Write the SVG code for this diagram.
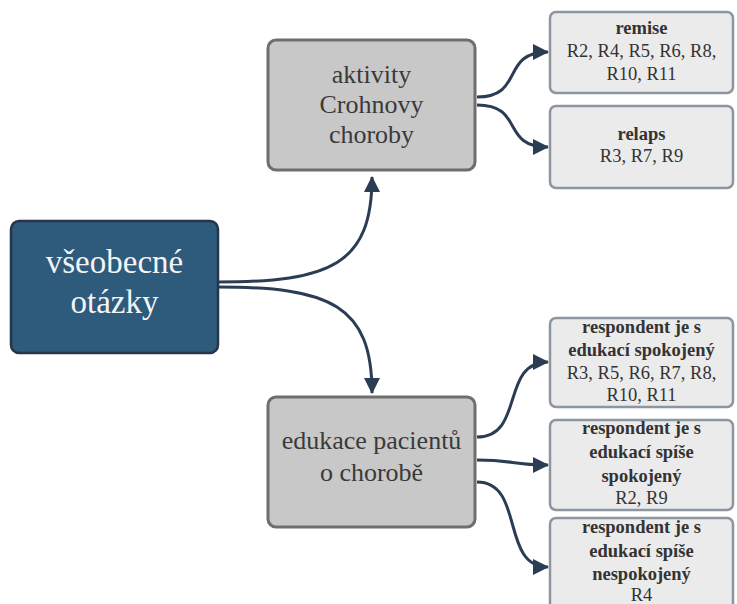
<svg xmlns="http://www.w3.org/2000/svg" width="737" height="604" viewBox="0 0 737 604">
<defs>
<marker id="arr" markerUnits="userSpaceOnUse" markerWidth="16" markerHeight="16" viewBox="0 0 16 16" refX="15" refY="8" orient="auto">
<path d="M0,0 L16,8 L0,16 Z" fill="#2b3d55"/>
</marker>
</defs>
<rect width="737" height="604" fill="#ffffff"/>
<g id="connectors" fill="none" stroke="#2b3d55" stroke-width="3">
<path d="M218,282 C330,282 372,265 372,177" marker-end="url(#arr)"/>
<path d="M218,287 C330,287 372,305 372,393" marker-end="url(#arr)"/>
<path d="M477,97 C525,97 500,52 548,52" marker-end="url(#arr)"/>
<path d="M477,105 C525,105 500,147 548,147" marker-end="url(#arr)"/>
<path d="M477,437 C525,437 500,362 548,362" marker-end="url(#arr)"/>
<path d="M477,460 C515,460 510,465 548,465" marker-end="url(#arr)"/>
<path d="M477,482 C525,482 500,567 548,567" marker-end="url(#arr)"/>
</g>
<g id="node-vseobecne">
<rect x="11" y="221" width="207" height="132" rx="8" fill="#2e5a7c" stroke="#25364a" stroke-width="2.5"/>
<text x="114.5" y="273" font-family="Liberation Serif" font-size="33" text-anchor="middle" fill="#f4f4f4">všeobecné</text>
<text x="114.5" y="313" font-family="Liberation Serif" font-size="33" text-anchor="middle" fill="#f4f4f4">otázky</text>
</g>
<g id="node-aktivity">
<rect x="268" y="40" width="207" height="130" rx="8" fill="#c8c8c8" stroke="#6e6e6e" stroke-width="3"/>
<text x="371.5" y="83" font-family="Liberation Serif" font-size="26" text-anchor="middle" fill="#3a3a3a">aktivity</text>
<text x="371.5" y="113" font-family="Liberation Serif" font-size="26" text-anchor="middle" fill="#3a3a3a">Crohnovy</text>
<text x="371.5" y="143" font-family="Liberation Serif" font-size="26" text-anchor="middle" fill="#3a3a3a">choroby</text>
</g>
<g id="node-edukace">
<rect x="268" y="397" width="207" height="130" rx="8" fill="#c8c8c8" stroke="#6e6e6e" stroke-width="3"/>
<text x="371.5" y="449" font-family="Liberation Serif" font-size="26" text-anchor="middle" fill="#3a3a3a">edukace pacientů</text>
<text x="371.5" y="481" font-family="Liberation Serif" font-size="26" text-anchor="middle" fill="#3a3a3a">o chorobě</text>
</g>
<g id="node-remise">
<rect x="550" y="12" width="183" height="81" rx="6" fill="#ebebeb" stroke="#8d96a0" stroke-width="2.5"/>
<text x="641.5" y="34" font-family="Liberation Serif" font-size="18.5" text-anchor="middle" fill="#333" font-weight="bold">remise</text>
<text x="641.5" y="57" font-family="Liberation Serif" font-size="18.5" text-anchor="middle" fill="#333">R2, R4, R5, R6, R8,</text>
<text x="641.5" y="80" font-family="Liberation Serif" font-size="18.5" text-anchor="middle" fill="#333">R10, R11</text>
</g>
<g id="node-relaps">
<rect x="550" y="106" width="183" height="82" rx="6" fill="#ebebeb" stroke="#8d96a0" stroke-width="2.5"/>
<text x="641.5" y="140" font-family="Liberation Serif" font-size="18.5" text-anchor="middle" fill="#333" font-weight="bold">relaps</text>
<text x="641.5" y="162" font-family="Liberation Serif" font-size="18.5" text-anchor="middle" fill="#333">R3, R7, R9</text>
</g>
<g id="node-spokojeny">
<rect x="550" y="318" width="183" height="89" rx="6" fill="#ebebeb" stroke="#8d96a0" stroke-width="2.5"/>
<text x="641.5" y="333" font-family="Liberation Serif" font-size="18.5" text-anchor="middle" fill="#333" font-weight="bold">respondent je s</text>
<text x="641.5" y="356" font-family="Liberation Serif" font-size="18.5" text-anchor="middle" fill="#333" font-weight="bold">edukací spokojený</text>
<text x="641.5" y="379" font-family="Liberation Serif" font-size="18.5" text-anchor="middle" fill="#333">R3, R5, R6, R7, R8,</text>
<text x="641.5" y="401" font-family="Liberation Serif" font-size="18.5" text-anchor="middle" fill="#333">R10, R11</text>
</g>
<g id="node-spise-spokojeny">
<rect x="550" y="420" width="183" height="90" rx="6" fill="#ebebeb" stroke="#8d96a0" stroke-width="2.5"/>
<text x="641.5" y="434" font-family="Liberation Serif" font-size="18.5" text-anchor="middle" fill="#333" font-weight="bold">respondent je s</text>
<text x="641.5" y="458" font-family="Liberation Serif" font-size="18.5" text-anchor="middle" fill="#333" font-weight="bold">edukací spíše</text>
<text x="641.5" y="482" font-family="Liberation Serif" font-size="18.5" text-anchor="middle" fill="#333" font-weight="bold">spokojený</text>
<text x="641.5" y="504" font-family="Liberation Serif" font-size="18.5" text-anchor="middle" fill="#333">R2, R9</text>
</g>
<g id="node-spise-nespokojeny">
<rect x="550" y="518" width="183" height="100" rx="6" fill="#ebebeb" stroke="#8d96a0" stroke-width="2.5"/>
<text x="641.5" y="533" font-family="Liberation Serif" font-size="18.5" text-anchor="middle" fill="#333" font-weight="bold">respondent je s</text>
<text x="641.5" y="557" font-family="Liberation Serif" font-size="18.5" text-anchor="middle" fill="#333" font-weight="bold">edukací spíše</text>
<text x="641.5" y="580" font-family="Liberation Serif" font-size="18.5" text-anchor="middle" fill="#333" font-weight="bold">nespokojený</text>
<text x="641.5" y="601" font-family="Liberation Serif" font-size="18.5" text-anchor="middle" fill="#333">R4</text>
</g>
</svg>
